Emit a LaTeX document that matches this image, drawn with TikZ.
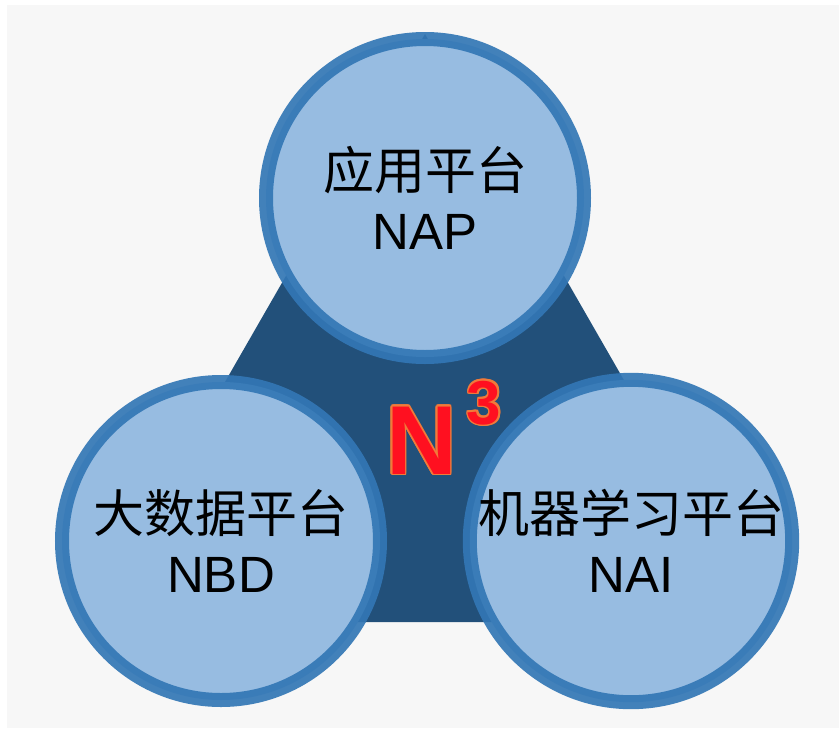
\documentclass[tikz,border=0pt]{standalone}
\usepackage{fontspec}
\setmainfont{Liberation Sans}
\newfontfamily\cjk{Noto Sans CJK SC}
\usepackage[copies]{contour}
\contourlength{1.6pt}

\definecolor{bgGray}{HTML}{F7F7F7}
\definecolor{triBlue}{HTML}{22507A}
\definecolor{ringBlue}{HTML}{3377B5}
\definecolor{fillBlue}{HTML}{97BCE1}
\definecolor{nRed}{HTML}{FF1020}
\definecolor{nOrange}{HTML}{F07A3A}

\begin{document}
\begin{tikzpicture}[x=1pt,y=-1pt]
    \tikzstyle{platform}=[circle,fill=fillBlue,draw=ringBlue,draw opacity=0.92,line width=14pt,minimum size=318pt,inner sep=0pt,align=center,font=\fontsize{51}{60}\selectfont]
    \tikzstyle{logo}=[anchor=base west,inner sep=0pt,text=nRed,font=\bfseries]

    % Background
    \useasboundingbox (0,0) rectangle (839,729);
    \fill[bgGray] (7,5) rectangle (839,728);

    % Draw the triangle behind the platforms
    \coordinate (T-1) at (425,34);
    \coordinate (T-2) at (87,622);
    \coordinate (T-3) at (763,622);
    \fill[triBlue] (T-1) -- (T-2) -- (T-3) -- cycle;

    % Draw the platform nodes
    \foreach \name / \x / \y / \title in {NAP/425/198/应用平台,NBD/221/541/大数据平台,NAI/631/541/机器学习平台}
        \node[platform] (\name) at (\x,\y) {{\cjk \title}\\\name};

    % The N^3 in the middle
    \node[logo] (N3) at (386,474)
        {\contour{nOrange}{{\fontsize{98}{98}\selectfont N}\hspace{10pt}\raisebox{50pt}{\fontsize{62}{62}\selectfont 3}}};
\end{tikzpicture}
\end{document}
